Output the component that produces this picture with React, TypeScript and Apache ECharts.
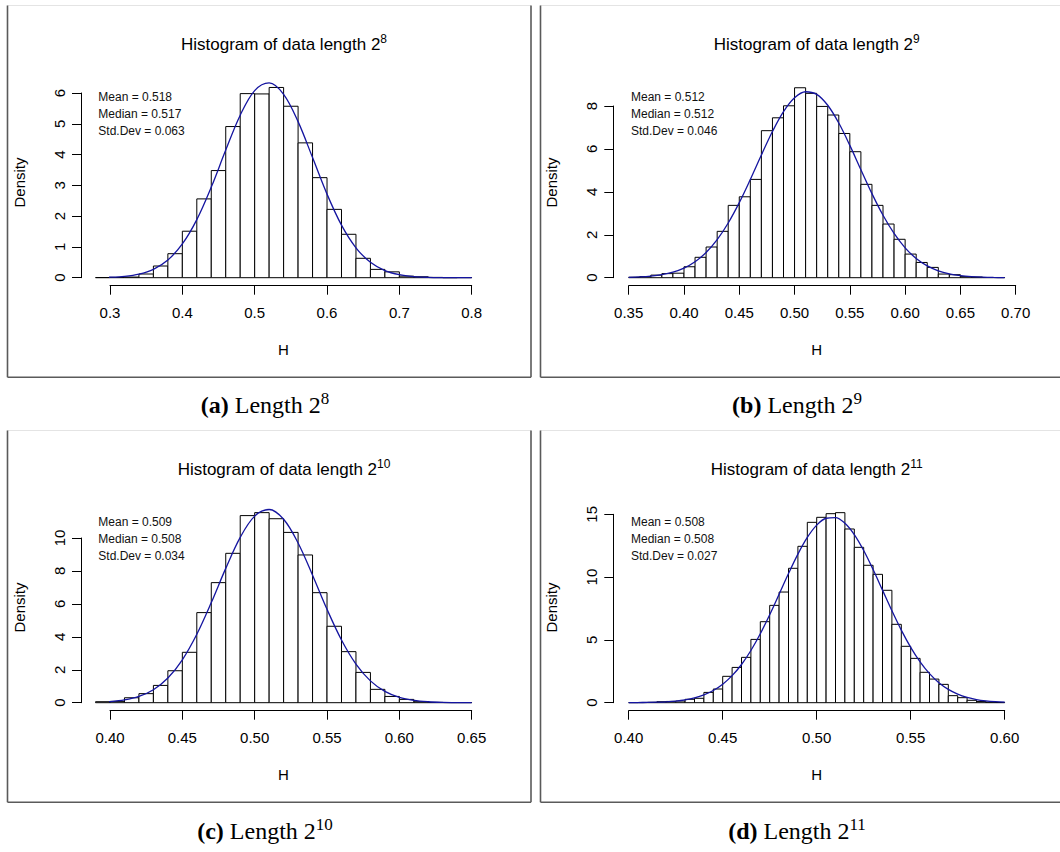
import React, { useEffect, useRef } from "react";
import * as echarts from "echarts";

// ---------- DATA ----------
// Panel (a): data length 2^8
const aBinStart = 0.28;
const aBinWidth = 0.02;
const aDensity = [0.005, 0.01, 0.02, 0.12, 0.38, 0.78, 1.51, 2.56, 3.48, 4.91, 5.98, 5.97, 6.18, 5.57, 4.38, 3.25, 2.22, 1.41, 0.63, 0.27, 0.19, 0.05, 0.03, 0.01, 0, 0.005];
const aCurveStart = 0.28;
const aCurveStep = 0.02;
const aCurve = [0.005, 0.016, 0.045, 0.117, 0.273, 0.575, 1.096, 1.888, 2.943, 4.145, 5.279, 6.079, 6.329, 5.958, 5.07, 3.901, 2.715, 1.707, 0.971, 0.5, 0.232, 0.098, 0.037, 0.013, 0.004, 0.001, 0.0003];
const aStats = ["Mean = 0.518", "Median = 0.517", "Std.Dev = 0.063"];
const aXTicks = [0.3, 0.8, 0.1];
const aYTicks = [0, 6, 1];

// Panel (b): data length 2^9
const bBinStart = 0.35;
const bBinWidth = 0.01;
const bDensity = [0.02, 0.05, 0.12, 0.19, 0.21, 0.51, 0.95, 1.43, 2.16, 3.37, 3.77, 4.58, 6.85, 7.45, 8.01, 8.85, 8.59, 7.98, 7.58, 6.72, 5.87, 4.35, 3.37, 2.5, 1.79, 1.1, 0.71, 0.48, 0.17, 0.14, 0.05, 0.03, 0.01, 0.01];
const bCurveStart = 0.35;
const bCurveStep = 0.01;
const bCurve = [0.018, 0.037, 0.074, 0.141, 0.258, 0.448, 0.743, 1.174, 1.771, 2.548, 3.497, 4.578, 5.716, 6.809, 7.735, 8.382, 8.664, 8.543, 8.034, 7.206, 6.165, 5.032, 3.917, 2.908, 2.06, 1.391, 0.897, 0.551, 0.323, 0.181, 0.096, 0.049, 0.024, 0.011, 0.005];
const bStats = ["Mean = 0.512", "Median = 0.512", "Std.Dev = 0.046"];
const bXTicks = [0.35, 0.7, 0.05];
const bYTicks = [0, 8, 2];

// Panel (c): data length 2^10
const cBinStart = 0.39;
const cBinWidth = 0.01;
const cDensity = [0.06, 0.08, 0.3, 0.55, 1.05, 1.94, 3.06, 5.47, 7.29, 9.07, 11.36, 11.54, 11.17, 10.34, 8.97, 6.68, 4.64, 3.1, 1.84, 0.81, 0.38, 0.2, 0.06, 0.02, 0.01, 0.01];
const cCurveStart = 0.39;
const cCurveStep = 0.01;
const cCurve = [0.026, 0.069, 0.169, 0.382, 0.789, 1.497, 2.604, 4.154, 6.077, 8.156, 10.038, 11.33, 11.729, 11.136, 9.697, 7.743, 5.671, 3.81, 2.347, 1.326, 0.687, 0.327, 0.142, 0.057, 0.021, 0.007, 0.002];
const cStats = ["Mean = 0.509", "Median = 0.508", "Std.Dev = 0.034"];
const cXTicks = [0.4, 0.65, 0.05];
const cYTicks = [0, 10, 2];

// Panel (d): data length 2^11
const dBinStart = 0.4;
const dBinWidth = 0.005;
const dDensity = [0.01, 0.02, 0.03, 0.08, 0.1, 0.13, 0.27, 0.35, 0.82, 1.09, 2.1, 2.81, 3.61, 5.04, 6.45, 7.75, 8.81, 10.7, 12.45, 14.36, 14.76, 15.05, 15.13, 13.83, 12.37, 10.94, 10.22, 8.95, 6.24, 4.49, 3.53, 2.42, 1.88, 1.46, 0.56, 0.4, 0.19, 0.1, 0.05, 0.02];
const dCurveStart = 0.4;
const dCurveStep = 0.005;
const dCurve = [0.005, 0.01, 0.02, 0.039, 0.073, 0.131, 0.228, 0.382, 0.62, 0.972, 1.471, 2.152, 3.042, 4.157, 5.488, 7.001, 8.63, 10.28, 11.831, 13.159, 14.14, 14.685, 14.735, 14.288, 13.387, 12.119, 10.602, 8.962, 7.32, 5.777, 4.406, 3.248, 2.313, 1.591, 1.058, 0.68, 0.422, 0.253, 0.147, 0.082, 0.045];
const dStats = ["Mean = 0.508", "Median = 0.508", "Std.Dev = 0.027"];
const dXTicks = [0.4, 0.6, 0.05];
const dYTicks = [0, 15, 5];

const titleExps = ["8", "9", "10", "11"];
const captionLetters = ["(a)", "(b)", "(c)", "(d)"];

// ---------- LAYOUT ----------
const SANS = "'Liberation Sans', Arial, Helvetica, sans-serif";
const SERIF = "'Liberation Serif', 'DejaVu Serif', 'Times New Roman', serif";

const panels = [
  { ox: 0, oy: 0, grid: { left: 110, top: 93, width: 361.7, height: 184.7 }, yOff: 29, dec: 1, titleX: 284, textX: 98.3, densX: 19, hX: 283.3, capX: 265,
    binStart: aBinStart, binWidth: aBinWidth, density: aDensity, curveStart: aCurveStart, curveStep: aCurveStep, curve: aCurve, stats: aStats, xt: aXTicks, yt: aYTicks },
  { ox: 533, oy: 0, grid: { left: 628.7, top: 106, width: 387, height: 171.7 }, yOff: 15.4, dec: 2, titleX: 816.7, textX: 631, densX: 551.7, hX: 816.7, capX: 797,
    binStart: bBinStart, binWidth: bBinWidth, density: bDensity, curveStart: bCurveStart, curveStep: bCurveStep, curve: bCurve, stats: bStats, xt: bXTicks, yt: bYTicks },
  { ox: 0, oy: 425, grid: { left: 110, top: 538, width: 361.7, height: 164.7 }, yOff: 29, dec: 2, titleX: 284, textX: 98.3, densX: 19, hX: 283.3, capX: 265,
    binStart: cBinStart, binWidth: cBinWidth, density: cDensity, curveStart: cCurveStart, curveStep: cCurveStep, curve: cCurve, stats: cStats, xt: cXTicks, yt: cYTicks },
  { ox: 533, oy: 425, grid: { left: 628.7, top: 514.3, width: 376, height: 188.4 }, yOff: 15.4, dec: 2, titleX: 816.7, textX: 631, densX: 551.7, hX: 816.7, capX: 797,
    binStart: dBinStart, binWidth: dBinWidth, density: dDensity, curveStart: dCurveStart, curveStep: dCurveStep, curve: dCurve, stats: dStats, xt: dXTicks, yt: dYTicks },
];

function buildOption() {
  const grids: any[] = [];
  const xAxes: any[] = [];
  const yAxes: any[] = [];
  const series: any[] = [];
  const graphics: any[] = [];

  panels.forEach((p, i) => {
    grids.push({ ...p.grid, containLabel: false });
    xAxes.push({
      gridIndex: i,
      type: "value",
      min: p.xt[0],
      max: p.xt[1],
      interval: p.xt[2],
      offset: 8,
      axisLine: { show: true, onZero: false, lineStyle: { color: "#000", width: 1 } },
      axisTick: { show: true, length: 9, lineStyle: { color: "#000", width: 1 } },
      axisLabel: {
        margin: 19,
        fontSize: 15,
        fontFamily: SANS,
        color: "#000",
        showMinLabel: true,
        showMaxLabel: true,
        formatter: (v: number) => v.toFixed(p.dec),
      },
      splitLine: { show: false },
    });
    yAxes.push({
      gridIndex: i,
      type: "value",
      min: p.yt[0],
      max: p.yt[1],
      interval: p.yt[2],
      offset: p.yOff,
      axisLine: { show: true, onZero: false, lineStyle: { color: "#000", width: 1 } },
      axisTick: { show: true, length: 9, lineStyle: { color: "#000", width: 1 } },
      axisLabel: {
        rotate: 90,
        margin: 14,
        fontSize: 15,
        fontFamily: SANS,
        color: "#000",
        showMinLabel: true,
        showMaxLabel: true,
      },
      splitLine: { show: false },
    });

    const bins = p.density.map((d, k) => [
      +(p.binStart + k * p.binWidth).toFixed(4),
      +(p.binStart + (k + 1) * p.binWidth).toFixed(4),
      d,
    ]);
    series.push({
      type: "custom",
      xAxisIndex: i,
      yAxisIndex: i,
      clip: false,
      silent: true,
      data: bins,
      encode: { x: [0, 1], y: 2 },
      renderItem: (params: any, api: any) => {
        const lo = api.value(0);
        const hi = api.value(1);
        const h = api.value(2);
        const tl = api.coord([lo, h]);
        const br = api.coord([hi, 0]);
        return {
          type: "rect",
          shape: { x: tl[0], y: tl[1], width: br[0] - tl[0], height: br[1] - tl[1] },
          style: { fill: "#ffffff", stroke: "#000000", lineWidth: 1 },
        };
      },
    });
    const curvePts = p.curve.map((v, k) => [+(p.curveStart + k * p.curveStep).toFixed(4), v]);
    series.push({
      type: "line",
      xAxisIndex: i,
      yAxisIndex: i,
      clip: false,
      silent: true,
      data: curvePts,
      showSymbol: false,
      symbol: "none",
      smooth: 0.35,
      lineStyle: { color: "#1414a0", width: 1.3 },
    });

    // title with superscript
    graphics.push({
      type: "text",
      x: p.titleX,
      y: 43 + p.oy,
      style: {
        text: `{t|Histogram of data length 2}{s|${titleExps[i]}}`,
        rich: {
          t: { fontSize: 17, fontFamily: SANS, fill: "#000", verticalAlign: "bottom" },
          s: { fontSize: 12, fontFamily: SANS, fill: "#000", verticalAlign: "bottom", padding: [0, 0, 8, 0] },
        },
        textAlign: "center",
        textVerticalAlign: "middle",
        align: "center",
        verticalAlign: "middle",
      },
    });
    // stats text
    p.stats.forEach((s, k) => {
      graphics.push({
        type: "text",
        x: p.textX,
        y: [96.7, 114, 130.7][k] + p.oy,
        style: {
          text: s,
          font: `12px ${SANS}`,
          fill: "#111",
          textAlign: "left",
          textVerticalAlign: "middle",
          align: "left",
          verticalAlign: "middle",
        },
      });
    });
    // Density label
    graphics.push({
      type: "text",
      x: p.densX,
      y: 182.5 + p.oy,
      rotation: Math.PI / 2,
      style: {
        text: "Density",
        font: `15px ${SANS}`,
        fill: "#000",
        textAlign: "center",
        textVerticalAlign: "middle",
        align: "center",
        verticalAlign: "middle",
      },
    });
    // H label
    graphics.push({
      type: "text",
      x: p.hX,
      y: 349.3 + p.oy,
      style: {
        text: "H",
        font: `15px ${SANS}`,
        fill: "#000",
        textAlign: "center",
        textVerticalAlign: "middle",
        align: "center",
        verticalAlign: "middle",
      },
    });
    // panel frame
    const L = 7.5 + p.ox;
    const R = 531 + p.ox;
    const T = 5.5 + p.oy;
    const B = 377.3 + p.oy;
    graphics.push({ type: "line", shape: { x1: L, y1: T, x2: R, y2: T }, style: { stroke: "#e4e4e4", lineWidth: 1.2 } });
    graphics.push({ type: "line", shape: { x1: L, y1: T, x2: L, y2: B }, style: { stroke: "#5a5a5a", lineWidth: 1.6 } });
    graphics.push({ type: "line", shape: { x1: R, y1: T, x2: R, y2: B }, style: { stroke: "#5a5a5a", lineWidth: 1.6 } });
    graphics.push({ type: "line", shape: { x1: L, y1: B, x2: R, y2: B }, style: { stroke: "#5a5a5a", lineWidth: 1.6 } });
    // caption
    graphics.push({
      type: "text",
      x: p.capX,
      y: 403 + p.oy + (p.oy ? 1 : 0),
      style: {
        text: `{b|${captionLetters[i]}}{n| Length 2}{s|${titleExps[i]}}`,
        rich: {
          b: { fontSize: 24, fontFamily: SERIF, fontWeight: "bold", fill: "#000", verticalAlign: "bottom" },
          n: { fontSize: 24, fontFamily: SERIF, fill: "#000", verticalAlign: "bottom" },
          s: { fontSize: 17, fontFamily: SERIF, fill: "#000", verticalAlign: "bottom", padding: [0, 0, 10, 0] },
        },
        textAlign: "center",
        textVerticalAlign: "middle",
        align: "center",
        verticalAlign: "middle",
      },
    });
  });

  return {
    animation: false,
    backgroundColor: "#ffffff",
    grid: grids,
    xAxis: xAxes,
    yAxis: yAxes,
    series,
    graphic: { elements: graphics },
  };
}

export default function App() {
  const ref = useRef<HTMLDivElement>(null);
  useEffect(() => {
    if (!ref.current) return;
    const chart = echarts.init(ref.current, undefined, { renderer: "svg" });
    chart.setOption(buildOption() as any);
    return () => {
      chart.dispose();
    };
  }, []);
  return (
    <div
      ref={ref}
      style={{ position: "absolute", left: 0, top: 0, width: 1060, height: 852, background: "#fff" }}
    />
  );
}
